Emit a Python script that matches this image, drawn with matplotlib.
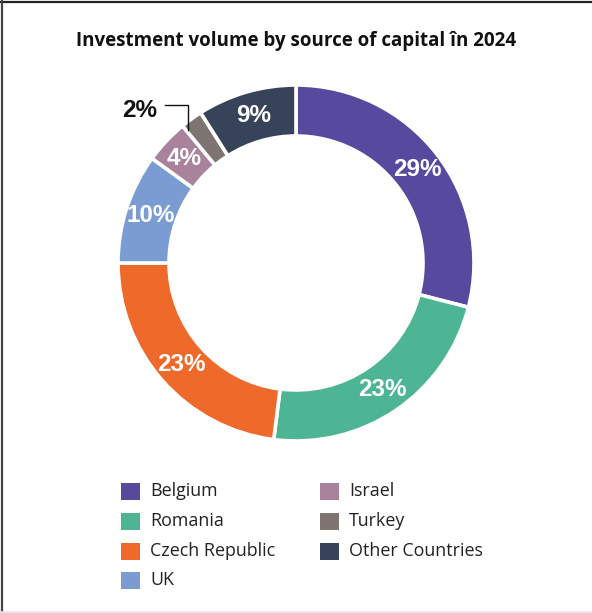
import numpy as np
import matplotlib.pyplot as plt
from matplotlib import font_manager
from matplotlib.lines import Line2D
from matplotlib.patches import Rectangle

countries = ["Belgium", "Romania", "Czech Republic", "UK", "Israel", "Turkey", "Other Countries"]
shares = [29, 23, 23, 10, 4, 2, 9]
colors = ["#574a9e", "#4db594", "#ee692a", "#7b9bd3", "#a8839b", "#7e7471", "#374358"]

# pick the regular-width Liberation Sans Bold file explicitly
bold_file = None
for f in font_manager.fontManager.ttflist:
    if f.name == "Liberation Sans" and f.weight in (700, "bold") and f.style == "normal":
        bold_file = f.fname
        break
if bold_file:
    pct_font = font_manager.FontProperties(fname=bold_file, size=17.5)
else:
    pct_font = font_manager.FontProperties(family="DejaVu Sans", weight="bold", size=16)

W, H = 592, 613
fig = plt.figure(figsize=(W / 100, H / 100), dpi=100)

# frame lines: dark top/left, light bottom
fig.add_artist(Line2D([0, 1], [1 - 1.5 / H, 1 - 1.5 / H], color="#222222", lw=1.6))
fig.add_artist(Line2D([1.5 / W, 1.5 / W], [0, 1], color="#444444", lw=1.6))
fig.add_artist(Line2D([0, 1], [1.5 / H, 1.5 / H], color="#e4e4e4", lw=1.2))

fig.text(0.5, 1 - 41 / H, "Investment volume by source of capital în 2024",
         ha="center", va="center", fontsize=13.5, fontweight="bold",
         family="Open Sans", color="#111111")

# donut
cx, cy, r = 296, 263, 178
ax = fig.add_axes([(cx - r) / W, 1 - (cy + r) / H, 2 * r / W, 2 * r / H])
width = 51 / r
wedges, _ = ax.pie(shares, colors=colors, startangle=90, counterclock=False,
                   radius=1, wedgeprops=dict(width=width, edgecolor="white", linewidth=2.6))
ax.set_xlim(-1, 1)
ax.set_ylim(-1, 1)
ax.set_aspect("equal")
ax.axis("off")

mid_r = 0.86
for w, v in zip(wedges, shares):
    ang = np.deg2rad((w.theta1 + w.theta2) / 2)
    x, y = mid_r * np.cos(ang), mid_r * np.sin(ang)
    if v < 3:
        # small slice: label outside with an elbow leader
        lx = np.cos(ang) - 0.02
        ly0, ly1 = 0.75, 0.885
        ax.plot([lx, lx, lx - 0.13], [ly0, ly1, ly1], color="#111111",
                lw=1, clip_on=False)
        ax.text(lx - 0.175, ly1 - 0.03, f"{v}%", ha="right", va="center",
                fontproperties=pct_font, color="#111111", clip_on=False)
    else:
        ax.text(x, y, f"{v}%", ha="center", va="center",
                fontproperties=pct_font, color="white")

# legend in two columns
col_x = [121, 320]
row_y = [491, 521, 551, 580]
for i, (name, c) in enumerate(zip(countries, colors)):
    col = 0 if i < 4 else 1
    row = i if i < 4 else i - 4
    x0, y0 = col_x[col], row_y[row]
    fig.add_artist(Rectangle((x0 / W, 1 - (y0 + 8.5) / H), 19 / W, 17 / H,
                             facecolor=c, edgecolor="none"))
    fig.text((x0 + 29) / W, 1 - y0 / H, name, ha="left", va="center",
             fontsize=12.9, family="Open Sans", color="#222222")

fig.savefig("out.png", dpi=100, facecolor="white")
